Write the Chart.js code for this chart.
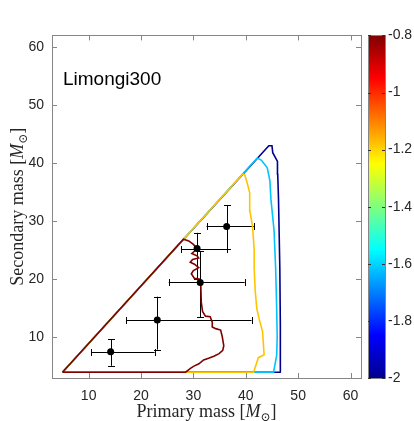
<!DOCTYPE html>
<html>
<head>
<meta charset="utf-8">
<style>html,body{margin:0;padding:0;background:#fff}canvas{display:block}</style>
<script src="https://cdn.jsdelivr.net/npm/chart.js@4/dist/chart.umd.min.js"></script>
</head>
<body>
<canvas id="c" width="414" height="421"></canvas>
<script>
// axis ticks
const xTicks = [10, 20, 30, 40, 50, 60];
const yTicks = [10, 20, 30, 40, 50, 60];
const cbTicks = [-2, -1.8, -1.6, -1.4, -1.2, -1, -0.8];
const cbLabels = ['-2', '-1.8', '-1.6', '-1.4', '-1.2', '-1', '-0.8'];

// observed events with error bars
const obsX   = [14.2, 23.1, 31.3, 30.7, 36.35];
const obsY   = [7.5, 13.0, 19.45, 25.3, 29.1];
const obsXLo = [10.5, 17.2, 25.3, 27.7, 32.5];
const obsXHi = [22.6, 41.1, 39.8, 36.35, 41.6];
const obsYLo = [5.1, 7.9, 13.5, 20.1, 25.3];
const obsYHi = [9.7, 17.0, 24.8, 28.0, 32.8];

// contour lines (levels -0.8, -1.2, -1.6, -2)
const redX = [5, 28.5, 29.5, 30.1, 31.05, 31.95, 32.9, 33.9, 34.9, 35.6, 35.8, 35.5, 35.2, 34.25, 33.6, 33.6, 33.2, 32.3, 31.75, 31.5, 31.4, 31.1, 30.2, 29.6, 30.0, 31.0, 30.2, 29.4, 29.85, 31.0, 30.7, 29.7, 30.7, 30.0, 29.1, 28.1, 5];
const redY = [4, 4, 4.7, 5.05, 5.45, 6.1, 6.4, 6.75, 7.2, 7.75, 8.55, 10.15, 11.25, 11.5, 11.8, 12.6, 13.55, 13.65, 14.45, 16.05, 19.5, 20.05, 20.15, 20.95, 21.5, 22.0, 22.6, 22.95, 23.4, 23.65, 24.05, 24.45, 25.25, 26.0, 26.6, 26.9, 4];
const yelX = [5, 41.5, 42.4, 43.5, 43.4, 43.2, 42.6, 42.1, 41.8, 41.6, 41.6, 41.3, 40.8, 40.75, 40.3, 39.8, 39.4, 5];
const yelY = [4, 4, 6.5, 7.0, 8.3, 11, 13, 15, 18, 22, 25.2, 29.0, 31.7, 34.9, 36.5, 38.0, 38.1, 4];
const cyanX = [5, 45.3, 45.9, 46.0, 45.9, 45.7, 45.4, 44.8, 44.6, 44.1, 43.0, 42.2, 5];
const cyanY = [4, 4, 6.9, 10, 15, 22, 28.4, 33.8, 37.0, 39.2, 40.5, 40.9, 4];
const navyX = [5, 46.7, 46.6, 46.5, 46.25, 46.1, 46.05, 45.15, 45.0, 44.4, 5];
const navyY = [4, 4, 12, 22, 33.8, 38.1, 40.3, 41.8, 43.0, 43.0, 4];

const zip = (xs, ys) => xs.map((v, i) => ({ x: v, y: ys[i] }));
const line = (xs, ys, color) => ({
  data: zip(xs, ys), showLine: true, pointRadius: 0, borderColor: color,
  borderWidth: 1.6, tension: 0, fill: false
});

const frameColor = '#868686';
const textColor = '#262626';
const snap = v => Math.round(v) + 0.5;

function drawMassTitle(ctx, text, x, y, rotate) {
  // "text [M_sun]" with italic M and subscript sun symbol, centred on (x, y)
  const normal = '18px "Liberation Serif"';
  const ital = 'italic 18px "Liberation Serif"';
  const small = '12px "DejaVu Serif"';
  const parts = [[text + ' [', normal, 0], ['M', ital, 0], ['\u2299', small, 4], [']', normal, 0]];
  let w = 0;
  parts.forEach(p => { ctx.font = p[1]; w += ctx.measureText(p[0]).width; });
  ctx.save();
  ctx.translate(x, y);
  if (rotate) ctx.rotate(-Math.PI / 2);
  ctx.fillStyle = textColor;
  ctx.textBaseline = 'alphabetic';
  ctx.textAlign = 'left';
  let cx = -w / 2;
  parts.forEach(p => {
    ctx.font = p[1];
    ctx.fillText(p[0], cx, 6 + p[2]);
    cx += ctx.measureText(p[0]).width;
  });
  ctx.restore();
}

const deco = {
  id: 'deco',
  beforeDatasetsDraw(chart) {
    const { ctx, scales: { x, y } } = chart;
    ctx.save();
    ctx.strokeStyle = '#000';
    ctx.lineWidth = 1;
    obsX.forEach((v, i) => {
      const px = snap(x.getPixelForValue(v)), py = snap(y.getPixelForValue(obsY[i]));
      const xl = x.getPixelForValue(obsXLo[i]), xh = x.getPixelForValue(obsXHi[i]);
      const yl = y.getPixelForValue(obsYLo[i]), yh = y.getPixelForValue(obsYHi[i]);
      ctx.beginPath();
      ctx.moveTo(xl, py); ctx.lineTo(xh, py);
      ctx.moveTo(snap(xl), py - 3.5); ctx.lineTo(snap(xl), py + 3.5);
      ctx.moveTo(snap(xh), py - 3.5); ctx.lineTo(snap(xh), py + 3.5);
      ctx.moveTo(px, yl); ctx.lineTo(px, yh);
      ctx.moveTo(px - 3.5, snap(yl)); ctx.lineTo(px + 3.5, snap(yl));
      ctx.moveTo(px - 3.5, snap(yh)); ctx.lineTo(px + 3.5, snap(yh));
      ctx.stroke();
    });
    ctx.restore();
  },
  afterDraw(chart) {
    const { ctx, chartArea: a, scales: { x, y, cb } } = chart;
    ctx.save();
    // axes box with inward ticks on all sides
    ctx.strokeStyle = frameColor;
    ctx.lineWidth = 1;
    ctx.strokeRect(snap(a.left), snap(a.top), Math.round(a.right - a.left), Math.round(a.bottom - a.top));
    ctx.beginPath();
    xTicks.forEach(v => {
      const px = snap(x.getPixelForValue(v));
      ctx.moveTo(px, a.bottom); ctx.lineTo(px, a.bottom - 5);
      ctx.moveTo(px, a.top); ctx.lineTo(px, a.top + 5);
    });
    yTicks.forEach(v => {
      const py = snap(y.getPixelForValue(v));
      ctx.moveTo(a.left, py); ctx.lineTo(a.left + 5, py);
      ctx.moveTo(a.right, py); ctx.lineTo(a.right - 5, py);
    });
    ctx.stroke();

    // colorbar (jet)
    const bx = Math.round(cb.left) + 7, bw = 17;
    const top = cb.getPixelForValue(-0.8), bot = cb.getPixelForValue(-2);
    const g = ctx.createLinearGradient(0, bot, 0, top);
    g.addColorStop(0, '#00008F');
    g.addColorStop(0.125, '#0000FF');
    g.addColorStop(0.375, '#00FFFF');
    g.addColorStop(0.625, '#FFFF00');
    g.addColorStop(0.875, '#FF0000');
    g.addColorStop(1, '#800000');
    ctx.fillStyle = g;
    ctx.fillRect(bx, top, bw, bot - top);
    ctx.strokeStyle = frameColor;
    ctx.strokeRect(bx + 0.5, snap(top), bw, Math.round(bot - top));
    ctx.beginPath();
    cbTicks.forEach(v => {
      const py = snap(cb.getPixelForValue(v));
      ctx.moveTo(bx, py); ctx.lineTo(bx + 3, py);
      ctx.moveTo(bx + bw, py); ctx.lineTo(bx + bw - 3, py);
    });
    ctx.strokeStyle = '#333';
    ctx.stroke();

    // model label
    ctx.fillStyle = '#000';
    ctx.font = '19px "Liberation Sans"';
    ctx.textAlign = 'left';
    ctx.textBaseline = 'alphabetic';
    ctx.fillText('Limongi300', a.left + 11, a.top + 50);

    // axis titles
    drawMassTitle(ctx, 'Primary mass', (a.left + a.right) / 2, 411, false);
    drawMassTitle(ctx, 'Secondary mass', 17, (a.top + a.bottom) / 2, true);
    ctx.restore();
  }
};

const tickFont = { family: 'Liberation Sans', size: 14 };

new Chart(document.getElementById('c'), {
  type: 'scatter',
  data: {
    datasets: [
      { data: zip(obsX, obsY), pointRadius: 3.5, backgroundColor: '#000', borderColor: '#000', borderWidth: 0 },
      line(redX, redY, '#800000'),
      line(yelX, yelY, '#FFC400'),
      line(cyanX, cyanY, '#00C3FF'),
      line(navyX, navyY, '#00008F')
    ]
  },
  options: {
    responsive: false,
    animation: false,
    layout: { padding: { top: 12, left: 0, right: 0, bottom: 0 } },
    plugins: { legend: { display: false }, tooltip: { enabled: false } },
    scales: {
      x: {
        type: 'linear', min: 3, max: 62,
        afterFit(s) { s.height = 43; },
        afterBuildTicks(s) { s.ticks = xTicks.map(v => ({ value: v })); },
        grid: { display: false, drawTicks: false },
        border: { display: false },
        ticks: { padding: 10, font: tickFont, color: textColor, maxRotation: 0 }
      },
      y: {
        type: 'linear', min: 3, max: 62,
        afterFit(s) { s.width = 52; },
        afterBuildTicks(s) { s.ticks = yTicks.map(v => ({ value: v })); },
        grid: { display: false, drawTicks: false },
        border: { display: false },
        ticks: { padding: 8, font: tickFont, color: textColor }
      },
      cb: {
        type: 'linear', position: 'right', min: -2, max: -0.8,
        afterFit(s) { s.width = 53; },
        afterBuildTicks(s) { s.ticks = cbTicks.map(v => ({ value: v })); },
        grid: { display: false, drawTicks: false },
        border: { display: false },
        ticks: { padding: 27, font: tickFont, color: textColor, callback: (v, i) => cbLabels[i] }
      }
    }
  },
  plugins: [deco]
});
</script>
</body>
</html>
